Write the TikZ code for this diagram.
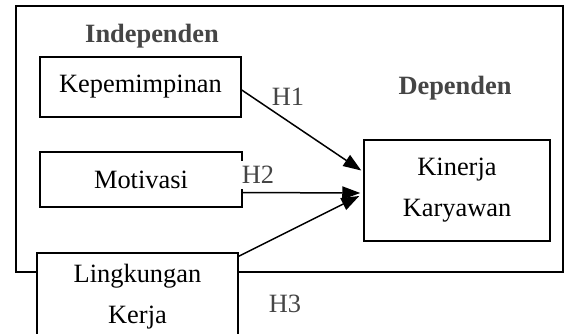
\documentclass[tikz,border=0pt]{standalone}
\usepackage{fontspec}
\setmainfont{Liberation Serif}
\usetikzlibrary{arrows.meta}
\definecolor{labelgray}{HTML}{454545}
\begin{document}
\begin{tikzpicture}[
		x=1pt, y=-1pt,
		every node/.style={font=\fontsize{26.4}{41}\selectfont},
		var/.style={draw, line width=1.5pt, fill=white, inner sep=0pt, align=center},
		group/.style={text=labelgray, font=\fontsize{26.4}{41}\selectfont\bfseries},
		hyp/.style={text=labelgray, fill=white, inner sep=1pt},
		link/.style={line width=1.5pt, -{Triangle[length=18pt,width=13pt]}}
	]
	\useasboundingbox (0,0) rectangle (565,333);
	\clip (0,0) rectangle (565,333);
	\draw[line width=2pt] (16,6) rectangle (563,272);

	\node[group] (indep) at (152,36) {Independen};
	\node[group] (dep) at (455,88) {Dependen};

	\node[var, minimum width=201pt, minimum height=60pt] (kep) at (140.5,87) {Kepemimpinan};
	\node[var, minimum width=202pt, minimum height=55pt] (mot) at (141,179.5) {Motivasi};
	\node[var, minimum width=201pt, minimum height=88pt] (lin) at (137.5,297) {Lingkungan\\Kerja};
	\node[var, minimum width=186pt, minimum height=101pt] (kin) at (457,190.5) {Kinerja\\Karyawan};

	\node[hyp] (h1) at (288,97) {H1};
	\node[hyp, inner ysep=5pt] (h2) at (258,175) {H2};
	\node[hyp] (h3) at (285,304) {H3};

	\draw[link] ([yshift=-3pt]kep.east) -- ([xshift=-2pt,yshift=20pt]kin.west);
	\draw[link] ([yshift=-13pt]mot.east) -- ([xshift=-3pt,yshift=-2.5pt]kin.west);
	\draw[link] ([yshift=-4pt]lin.north east) -- ([xshift=-4pt,yshift=-5.5pt]kin.west);
\end{tikzpicture}
\end{document}
